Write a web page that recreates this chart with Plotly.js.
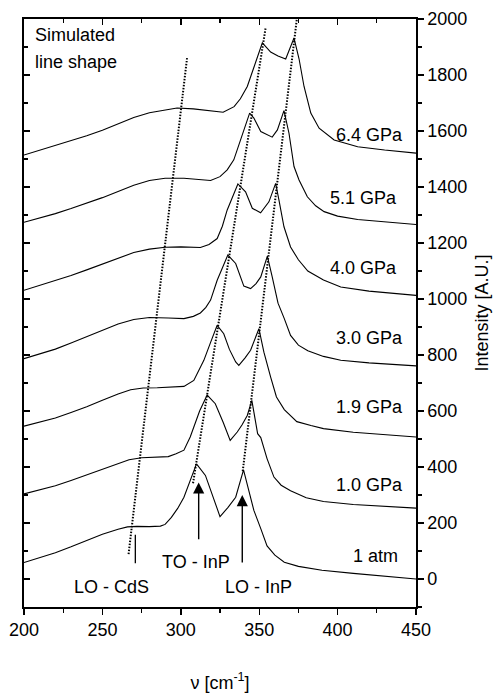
<!DOCTYPE html>
<html>
<head>
<meta charset="utf-8">
<script src="https://cdn.plot.ly/plotly-3.0.1.min.js"></script>
<style>html,body{margin:0;padding:0;background:#fff;}#chart{width:496px;height:693px;}</style>
</head>
<body>
<div id="chart"></div>
<script>
// ---- data ----
const seriesNames = ["1 atm", "1.0 GPa", "1.9 GPa", "3.0 GPa", "4.0 GPa", "5.1 GPa", "6.4 GPa"];

const atm_v = [200, 210, 220, 230, 240, 250, 260, 266, 272, 280, 287, 290, 294, 298, 302, 306, 310, 315.7, 320, 325, 330, 335, 340, 343, 346.6, 351, 355, 360, 366, 375, 390, 410, 430, 450];
const atm_I = [59, 76, 94, 115, 138, 160, 178, 186, 188, 187, 189, 195, 220, 252, 292, 350, 411, 370, 300, 223, 255, 292, 390, 320, 245, 180, 118, 85, 60, 45, 31, 20, 10, 0];

const g10_v = [200, 210, 220, 230, 240, 250, 260, 267, 275, 285, 292, 297, 302, 306, 308.2, 312, 316.8, 322, 327, 331.5, 336, 339, 342.4, 345.3, 349, 351, 355, 359.4, 364, 370, 380, 391, 410, 430, 450];
const g10_I = [304, 318, 333, 352, 372, 394, 414, 426, 433, 434, 437, 447, 460, 507, 542, 600, 657, 626, 560, 495, 525, 550, 584, 638, 519, 505, 430, 364, 335, 315, 290, 277, 266, 259, 253];

const g19_v = [200, 210, 220, 230, 240, 250, 260, 268, 276, 285, 295, 302, 308.3, 314.7, 319, 323.2, 327.4, 331, 335, 337, 341, 344.5, 349.8, 353, 357.3, 361, 366, 374, 383, 391, 410, 430, 450];
const g19_I = [546, 560, 575, 595, 615, 638, 661, 676, 682, 683, 685, 688, 709, 781, 845, 906, 876, 820, 775, 763, 790, 817, 894, 810, 721, 650, 605, 562, 548, 537, 524, 515, 507];

const g30_v = [200, 210, 220, 230, 240, 250, 260, 270, 280, 292, 302, 308, 312.5, 316, 319, 323.2, 326.5, 330, 335, 340.2, 344.5, 348, 351, 355.2, 358.3, 362, 366, 370, 375, 381, 391, 402, 420, 450];
const g30_I = [787, 803, 821, 843, 865, 888, 911, 927, 934, 932, 930, 938, 950, 970, 996, 1067, 1110, 1157, 1127, 1046, 1037, 1055, 1079, 1153, 1079, 985, 930, 870, 835, 815, 795, 781, 772, 761];

const g40_v = [200, 210, 220, 230, 240, 250, 260, 270, 280, 290, 300, 312.5, 318, 323.2, 326.5, 329.6, 336.4, 341.3, 345.6, 350.9, 356.2, 360.5, 362.6, 365.8, 370, 375, 381, 391, 402, 420, 450];
const g40_I = [1031, 1048, 1065, 1084, 1104, 1125, 1147, 1166, 1178, 1185, 1186, 1184, 1195, 1216, 1260, 1318, 1411, 1383, 1324, 1308, 1347, 1413, 1353, 1258, 1186, 1140, 1100, 1068, 1043, 1028, 1013];

const g51_v = [200, 210, 220, 230, 240, 250, 260, 270, 280, 290, 302, 310, 319, 325, 329.6, 333.8, 336, 340, 343.9, 346.6, 351, 358.3, 361.6, 365.8, 369, 372.2, 375.4, 380.7, 386, 391.4, 400, 412.8, 430, 450];
const g51_I = [1274, 1289, 1305, 1323, 1342, 1362, 1384, 1406, 1423, 1431, 1431, 1427, 1423, 1437, 1461, 1497, 1532, 1600, 1664, 1646, 1598, 1578, 1604, 1673, 1592, 1473, 1425, 1365, 1333, 1312, 1296, 1284, 1275, 1266];

const g64_v = [200, 210, 220, 230, 240, 250, 260, 270, 280, 290, 297.6, 308, 318, 327, 334, 338, 342.4, 347.7, 352, 357.3, 362, 366.9, 372.2, 375.4, 378.6, 382.9, 388.2, 397.8, 412.8, 430, 450];
const g64_I = [1514, 1531, 1548, 1565, 1583, 1603, 1625, 1648, 1665, 1676, 1682, 1679, 1672, 1667, 1687, 1715, 1759, 1843, 1915, 1882, 1868, 1857, 1932, 1858, 1759, 1664, 1610, 1568, 1544, 1532, 1521];

// guide lines (dotted) through the mode positions
const cdsGuide_v = [266.7, 304];
const cdsGuide_I = [89, 1861];
const toGuide_v = [307.8, 354.1];
const toGuide_I = [342, 1968];
const loGuide_v = [339.5, 374];
const loGuide_I = [385, 2000];

// marker line for LO-CdS and arrows for TO/LO InP
const cdsMark_v = [271, 271];
const cdsMark_I = [56, 158];
const arrow_v = [311.4, 339.2];
const arrowTip_I = [345, 300];
const arrowTail_I = [137, 54];

// labels
const pressureLabels = ["1 atm", "1.0 GPa", "1.9 GPa", "3.0 GPa", "4.0 GPa", "5.1 GPa", "6.4 GPa"];
const pressureLabel_v = [439.8, 443, 443, 443, 439.3, 439.3, 443];
const pressureLabel_I = [82, 334, 613, 861, 1112, 1361, 1586];
const modeLabels = ["LO - CdS", "TO - InP", "LO - InP"];
const modeLabel_v = [255.5, 310, 349.3];
const modeLabel_I = [-28, 62, -29];

const xTicks = [200, 250, 300, 350, 400, 450];
const yTicks = [0, 200, 400, 600, 800, 1000, 1200, 1400, 1600, 1800, 2000];

// ---- build ----
const FONT = "Liberation Sans, Arial, Helvetica, sans-serif";
const curves = [[atm_v, atm_I], [g10_v, g10_I], [g19_v, g19_I], [g30_v, g30_I], [g40_v, g40_I], [g51_v, g51_I], [g64_v, g64_I]];
const traces = curves.map((c, i) => ({
  type: "scatter", mode: "lines", x: c[0], y: c[1], name: seriesNames[i],
  line: {color: "#000", width: 1.1}, hoverinfo: "skip"
}));
[[cdsGuide_v, cdsGuide_I], [toGuide_v, toGuide_I], [loGuide_v, loGuide_I]].forEach(g => {
  traces.push({type: "scatter", mode: "lines", x: g[0], y: g[1], line: {color: "#000", width: 2, dash: "1.5px,1.5px"}, hoverinfo: "skip"});
});
traces.push({type: "scatter", mode: "lines", x: cdsMark_v, y: cdsMark_I, line: {color: "#000", width: 1.3}, hoverinfo: "skip"});
// dummy trace for the mirrored (inward-tick) axes
traces.push({type: "scatter", mode: "markers", x: [200], y: [0], xaxis: "x2", yaxis: "y2", marker: {opacity: 0}, hoverinfo: "skip"});

const annotations = [];
pressureLabels.forEach((t, i) => annotations.push({
  text: t, x: pressureLabel_v[i], y: pressureLabel_I[i], xref: "x", yref: "y",
  xanchor: "right", yanchor: "middle", showarrow: false, font: {family: FONT, size: 18, color: "#000"}
}));
modeLabels.forEach((t, i) => annotations.push({
  text: t, x: modeLabel_v[i], y: modeLabel_I[i], xref: "x", yref: "y",
  xanchor: "center", yanchor: "middle", showarrow: false, font: {family: FONT, size: 18, color: "#000"}
}));
arrow_v.forEach((v, i) => annotations.push({
  text: "", x: v, y: arrowTip_I[i], ax: v, ay: arrowTail_I[i], xref: "x", yref: "y", axref: "x", ayref: "y",
  showarrow: true, arrowhead: 2, arrowsize: 1.6, arrowwidth: 1.4, arrowcolor: "#000", standoff: 0, startstandoff: 0
}));
annotations.push({text: "Simulated", xref: "paper", yref: "paper", x: 0.023, y: 0.9728, xanchor: "left", yanchor: "middle", showarrow: false, font: {family: FONT, size: 18, color: "#000"}});
annotations.push({text: "line shape", xref: "paper", yref: "paper", x: 0.023, y: 0.9275, xanchor: "left", yanchor: "middle", showarrow: false, font: {family: FONT, size: 18, color: "#000"}});

const axCommon = {
  showline: true, linecolor: "#000", linewidth: 1.6, showgrid: false, zeroline: false,
  tickcolor: "#000", tickwidth: 1.4, tickfont: {family: FONT, size: 18, color: "#000"}
};

const layout = {
  width: 496, height: 693,
  margin: {l: 24, r: 80, t: 19, b: 86},
  paper_bgcolor: "#fff", plot_bgcolor: "#fff",
  showlegend: false,
  font: {family: FONT, size: 18, color: "#000"},
  xaxis: Object.assign({}, axCommon, {
    range: [200, 450], tickmode: "array", tickvals: xTicks, ticks: "outside", ticklen: 6,
    minor: {dtick: 25, tick0: 200, ticks: "outside", ticklen: 4, tickwidth: 1.4, tickcolor: "#000"},
    anchor: "y", automargin: false,
    title: {text: "ν [cm<sup>-1</sup>]", font: {family: FONT, size: 18, color: "#000"}, standoff: 38}
  }),
  yaxis: Object.assign({}, axCommon, {
    range: [-100, 2000], side: "right", tickmode: "array", tickvals: yTicks, ticks: "outside", ticklen: 6,
    minor: {dtick: 100, tick0: 0, ticks: "outside", ticklen: 4, tickwidth: 1.4, tickcolor: "#000"},
    anchor: "x", automargin: false,
    title: {text: "Intensity [A.U.]", font: {family: FONT, size: 18, color: "#000"}, standoff: 9}
  }),
  xaxis2: Object.assign({}, axCommon, {
    range: [200, 450], overlaying: "x", side: "top", anchor: "y2", tickmode: "array", tickvals: xTicks,
    ticks: "inside", ticklen: 6, showticklabels: false,
    minor: {dtick: 25, tick0: 200, ticks: "inside", ticklen: 4, tickwidth: 1.4, tickcolor: "#000"}
  }),
  yaxis2: Object.assign({}, axCommon, {
    range: [-100, 2000], overlaying: "y", side: "left", anchor: "x2", tickmode: "array", tickvals: yTicks,
    ticks: "inside", ticklen: 6, showticklabels: false,
    minor: {dtick: 100, tick0: 0, ticks: "inside", ticklen: 4, tickwidth: 1.4, tickcolor: "#000"}
  }),
  annotations: annotations
};

Plotly.newPlot("chart", traces, layout, {staticPlot: true, displayModeBar: false});
</script>
</body>
</html>
